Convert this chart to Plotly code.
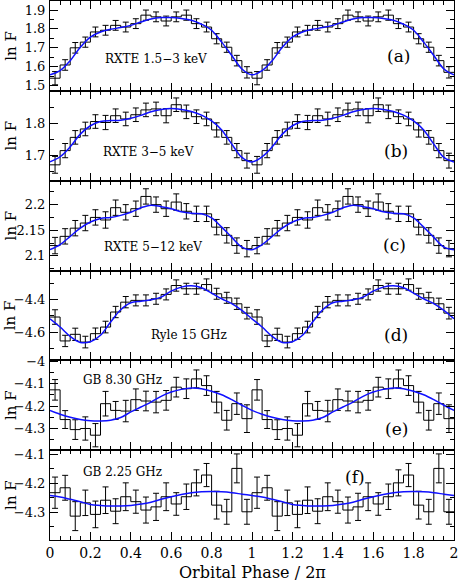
import numpy as np
import plotly.graph_objects as go

# ---------------- data (ln F per phase bin, 40 bins of width 0.05 over phase 0-2) ----------------
bin_width = 0.05
n_bins = 40

rxte_soft_vals = [1.539, 1.609, 1.700, 1.730, 1.784, 1.793, 1.819, 1.810, 1.828, 1.873,
                  1.864, 1.842, 1.864, 1.873, 1.828, 1.810, 1.748, 1.703, 1.632, 1.570,
                  1.539, 1.609, 1.700, 1.730, 1.784, 1.793, 1.819, 1.810, 1.828, 1.873,
                  1.864, 1.842, 1.864, 1.873, 1.828, 1.810, 1.748, 1.703, 1.632, 1.570]
rxte_soft_err = [0.035, 0.028, 0.028, 0.027, 0.026, 0.026, 0.026, 0.026, 0.026, 0.027,
                 0.026, 0.026, 0.026, 0.027, 0.026, 0.026, 0.027, 0.027, 0.028, 0.030,
                 0.035, 0.028, 0.028, 0.027, 0.026, 0.026, 0.026, 0.026, 0.026, 0.027,
                 0.026, 0.026, 0.026, 0.027, 0.026, 0.026, 0.027, 0.027, 0.028, 0.030]
rxte_soft_fit = [1.557, 1.579, 1.632, 1.703, 1.757, 1.784, 1.798, 1.807, 1.819, 1.837,
                 1.853, 1.860, 1.860, 1.855, 1.846, 1.825, 1.793, 1.730, 1.659, 1.588,
                 1.557, 1.579, 1.632, 1.703, 1.757, 1.784, 1.798, 1.807, 1.819, 1.837,
                 1.853, 1.860, 1.860, 1.855, 1.846, 1.825, 1.793, 1.730, 1.659, 1.588, 1.557]

rxte_mid_vals = [1.672, 1.716, 1.757, 1.783, 1.806, 1.803, 1.824, 1.814, 1.827, 1.842,
                 1.845, 1.824, 1.858, 1.836, 1.821, 1.814, 1.780, 1.757, 1.716, 1.685,
                 1.672, 1.716, 1.757, 1.783, 1.806, 1.803, 1.824, 1.814, 1.827, 1.842,
                 1.845, 1.824, 1.858, 1.836, 1.821, 1.814, 1.780, 1.757, 1.716, 1.685]
rxte_mid_err = [0.026, 0.022, 0.021, 0.021, 0.021, 0.022, 0.021, 0.021, 0.021, 0.021,
                0.021, 0.022, 0.021, 0.021, 0.021, 0.021, 0.022, 0.021, 0.022, 0.023,
                0.026, 0.022, 0.021, 0.021, 0.021, 0.022, 0.021, 0.021, 0.021, 0.021,
                0.021, 0.022, 0.021, 0.021, 0.021, 0.021, 0.022, 0.021, 0.022, 0.023]
rxte_mid_fit = [1.681, 1.697, 1.728, 1.767, 1.793, 1.806, 1.809, 1.810, 1.816, 1.825,
                1.836, 1.843, 1.846, 1.843, 1.837, 1.826, 1.808, 1.780, 1.736, 1.695,
                1.681, 1.697, 1.728, 1.767, 1.793, 1.806, 1.809, 1.810, 1.816, 1.825,
                1.836, 1.843, 1.846, 1.843, 1.837, 1.826, 1.808, 1.780, 1.736, 1.695, 1.681]

rxte_hard_vals = [2.120, 2.138, 2.154, 2.164, 2.175, 2.170, 2.194, 2.185, 2.192, 2.216,
                  2.200, 2.192, 2.205, 2.187, 2.182, 2.182, 2.156, 2.140, 2.120, 2.114,
                  2.120, 2.138, 2.154, 2.164, 2.175, 2.170, 2.194, 2.185, 2.192, 2.216,
                  2.200, 2.192, 2.205, 2.187, 2.182, 2.182, 2.156, 2.140, 2.120, 2.114]
rxte_hard_err = [0.016, 0.015, 0.015, 0.015, 0.015, 0.016, 0.015, 0.015, 0.015, 0.015,
                 0.015, 0.015, 0.016, 0.015, 0.015, 0.015, 0.015, 0.015, 0.015, 0.016,
                 0.016, 0.015, 0.015, 0.015, 0.015, 0.016, 0.015, 0.015, 0.015, 0.015,
                 0.015, 0.015, 0.016, 0.015, 0.015, 0.015, 0.015, 0.015, 0.015, 0.016]
rxte_hard_fit = [2.112, 2.122, 2.138, 2.154, 2.166, 2.173, 2.175, 2.179, 2.185, 2.194,
                 2.199, 2.196, 2.192, 2.186, 2.183, 2.182, 2.174, 2.156, 2.136, 2.117,
                 2.112, 2.122, 2.138, 2.154, 2.166, 2.173, 2.175, 2.179, 2.185, 2.194,
                 2.199, 2.196, 2.192, 2.186, 2.183, 2.182, 2.174, 2.156, 2.136, 2.117, 2.112]

ryle_vals = [-4.507, -4.655, -4.614, -4.662, -4.610, -4.569, -4.476, -4.415, -4.404, -4.404,
             -4.394, -4.367, -4.312, -4.332, -4.332, -4.306, -4.363, -4.388, -4.425, -4.483,
             -4.507, -4.655, -4.614, -4.662, -4.610, -4.569, -4.476, -4.415, -4.404, -4.404,
             -4.394, -4.367, -4.312, -4.332, -4.332, -4.306, -4.363, -4.388, -4.425, -4.483]
ryle_err = [0.045, 0.035, 0.038, 0.036, 0.035, 0.036, 0.035, 0.035, 0.034, 0.034,
            0.034, 0.034, 0.035, 0.034, 0.034, 0.035, 0.034, 0.034, 0.035, 0.036,
            0.045, 0.035, 0.038, 0.036, 0.035, 0.036, 0.035, 0.035, 0.034, 0.034,
            0.034, 0.034, 0.035, 0.034, 0.034, 0.035, 0.034, 0.034, 0.035, 0.036]
ryle_fit = [-4.518, -4.569, -4.627, -4.664, -4.660, -4.620, -4.538, -4.462, -4.419, -4.409,
            -4.400, -4.384, -4.347, -4.322, -4.314, -4.326, -4.359, -4.394, -4.424, -4.466,
            -4.518, -4.569, -4.627, -4.664, -4.660, -4.620, -4.538, -4.462, -4.419, -4.409,
            -4.400, -4.384, -4.347, -4.322, -4.314, -4.326, -4.359, -4.394, -4.424, -4.466, -4.518]

gb830_vals = [-4.127, -4.260, -4.305, -4.300, -4.330, -4.189, -4.219, -4.222, -4.171, -4.177,
              -4.182, -4.174, -4.115, -4.122, -4.078, -4.108, -4.182, -4.263, -4.189, -4.256,
              -4.127, -4.260, -4.305, -4.300, -4.330, -4.189, -4.219, -4.222, -4.171, -4.177,
              -4.182, -4.174, -4.115, -4.122, -4.078, -4.108, -4.182, -4.263, -4.189, -4.256]
gb830_err = [0.046, 0.040, 0.044, 0.052, 0.052, 0.055, 0.040, 0.048, 0.048, 0.044,
             0.048, 0.044, 0.044, 0.044, 0.040, 0.044, 0.048, 0.044, 0.048, 0.062,
             0.046, 0.040, 0.044, 0.052, 0.052, 0.055, 0.040, 0.048, 0.048, 0.044,
             0.048, 0.044, 0.044, 0.044, 0.040, 0.044, 0.048, 0.044, 0.048, 0.062]
gb830_fit = [-4.219, -4.236, -4.250, -4.260, -4.265, -4.266, -4.263, -4.251, -4.226, -4.204,
             -4.182, -4.156, -4.137, -4.125, -4.119, -4.122, -4.133, -4.149, -4.171, -4.196,
             -4.219, -4.236, -4.250, -4.260, -4.265, -4.266, -4.263, -4.251, -4.226, -4.204,
             -4.182, -4.156, -4.137, -4.125, -4.119, -4.122, -4.133, -4.149, -4.171, -4.196, -4.219]

gb225_vals = [-4.232, -4.215, -4.313, -4.267, -4.307, -4.258, -4.296, -4.246, -4.263, -4.292,
              -4.281, -4.246, -4.271, -4.246, -4.198, -4.171, -4.275, -4.298, -4.148, -4.298,
              -4.232, -4.215, -4.313, -4.267, -4.307, -4.258, -4.296, -4.246, -4.263, -4.292,
              -4.281, -4.246, -4.271, -4.246, -4.198, -4.171, -4.275, -4.298, -4.148, -4.298]
gb225_err = [0.054, 0.043, 0.050, 0.044, 0.046, 0.046, 0.043, 0.048, 0.040, 0.045,
             0.047, 0.048, 0.039, 0.044, 0.045, 0.040, 0.048, 0.043, 0.050, 0.043,
             0.054, 0.043, 0.050, 0.044, 0.046, 0.046, 0.043, 0.048, 0.040, 0.045,
             0.047, 0.048, 0.039, 0.044, 0.045, 0.040, 0.048, 0.043, 0.050, 0.043]
gb225_fit = [-4.242, -4.247, -4.255, -4.263, -4.273, -4.276, -4.278, -4.278, -4.276, -4.271,
             -4.265, -4.255, -4.246, -4.238, -4.232, -4.229, -4.228, -4.229, -4.232, -4.237,
             -4.242, -4.247, -4.255, -4.263, -4.273, -4.276, -4.278, -4.278, -4.276, -4.271,
             -4.265, -4.255, -4.246, -4.238, -4.232, -4.229, -4.228, -4.229, -4.232, -4.237, -4.242]

band_labels = ["RXTE 1.5\u22123 keV", "RXTE 3\u22125 keV", "RXTE 5\u221212 keV",
               "Ryle 15 GHz", "GB 8.30 GHz", "GB 2.25 GHz"]
panel_tags = ["(a)", "(b)", "(c)", "(d)", "(e)", "(f)"]

y_ranges = [[1.472, 1.948], [1.623, 1.901], [2.0713, 2.2468],
            [-4.775, -4.219], [-4.397, -3.995], [-4.3955, -4.085]]
y_tickvals = [[1.5, 1.6, 1.7, 1.8, 1.9], [1.7, 1.8], [2.1, 2.15, 2.2],
              [-4.6, -4.4], [-4.3, -4.2, -4.1, -4.0], [-4.3, -4.2, -4.1]]
y_ticktext = [["1.5", "1.6", "1.7", "1.8", "1.9"], ["1.7", "1.8"], ["2.1", "2.15", "2.2"],
              ["\u22124.6", "\u22124.4"], ["\u22124.3", "\u22124.2", "\u22124.1", "\u22124"],
              ["\u22124.3", "\u22124.2", "\u22124.1"]]
y_minor_dtick = [0.05, 0.05, 0.025, 0.1, 0.05, 0.05]

x_tickvals = [0, 0.2, 0.4, 0.6, 0.8, 1, 1.2, 1.4, 1.6, 1.8, 2]
x_ticktext = ["0", "0.2", "0.4", "0.6", "0.8", "1", "1.2", "1.4", "1.6", "1.8", "2"]

# label placement (x in phase, y as fraction of panel height)
label_pos = [(0.524, 0.35), (0.489, 0.32), (0.508, 0.26), (0.687, 0.28), (0.357, 0.78), (0.357, 0.76)]
tag_pos = [(1.724, 0.39), (1.713, 0.33), (1.707, 0.28), (1.713, 0.28), (1.713, 0.24), (1.511, 0.70)]

series = [(rxte_soft_vals, rxte_soft_err, rxte_soft_fit),
          (rxte_mid_vals, rxte_mid_err, rxte_mid_fit),
          (rxte_hard_vals, rxte_hard_err, rxte_hard_fit),
          (ryle_vals, ryle_err, ryle_fit),
          (gb830_vals, gb830_err, gb830_fit),
          (gb225_vals, gb225_err, gb225_fit)]

# ---------------- figure ----------------
edges = np.round(np.arange(n_bins + 1) * bin_width, 4)
centers = edges[:-1] + bin_width / 2
fit_x = edges  # model sampled at bin edges

FONT = "DejaVu Serif"
fig = go.Figure()
layout = dict(template="none", width=458, height=583, margin=dict(l=50, r=4, t=1, b=43, pad=0),
              autosize=False,
              paper_bgcolor="white", plot_bgcolor="white", showlegend=False,
              font=dict(family=FONT, size=14, color="black"))
annotations = []
n = len(series)
for i, (vals, errs, fit) in enumerate(series):
    xa = "x" if i == 0 else f"x{i+1}"
    ya = "y" if i == 0 else f"y{i+1}"
    step_y = list(vals) + [vals[-1]]
    fig.add_trace(go.Scatter(x=edges, y=step_y, mode="lines", line=dict(color="black", width=1, shape="hv"),
                             xaxis=xa, yaxis=ya, hoverinfo="skip"))
    fig.add_trace(go.Scatter(x=centers, y=vals, mode="markers", marker=dict(size=1, color="rgba(0,0,0,0)"),
                             error_y=dict(type="data", array=errs, visible=True, color="black", thickness=1, width=3),
                             xaxis=xa, yaxis=ya, hoverinfo="skip"))
    fig.add_trace(go.Scatter(x=fit_x, y=fit, mode="lines", line=dict(color="#1010ff", width=1.5, shape="spline", smoothing=1.0),
                             xaxis=xa, yaxis=ya, hoverinfo="skip"))

    dom = [1 - (i + 1) / n, 1 - i / n]
    xkey = "xaxis" if i == 0 else f"xaxis{i+1}"
    ykey = "yaxis" if i == 0 else f"yaxis{i+1}"
    layout[xkey] = dict(domain=[0, 1], anchor=ya, range=[0, 2], showgrid=False, zeroline=False,
                        automargin=False, ticklabeloverflow="allow",
                        showline=True, linecolor="black", linewidth=1, mirror="allticks",
                        ticks="inside", ticklen=8, tickwidth=1, tickcolor="black",
                        tickmode="array", tickvals=x_tickvals, ticktext=x_ticktext,
                        showticklabels=(i == n - 1), tickfont=dict(family=FONT, size=14),
                        minor=dict(dtick=0.05, tick0=0, ticks="inside", ticklen=4, tickcolor="black", tickwidth=1),
                        **({} if i == 0 else {"matches": "x"}))
    layout[ykey] = dict(domain=dom, anchor=xa, range=y_ranges[i], showgrid=False, zeroline=False,
                        automargin=False, ticklabeloverflow="allow", ticklabelstandoff=1,
                        showline=True, linecolor="black", linewidth=1, mirror="allticks",
                        ticks="inside", ticklen=8, tickwidth=1, tickcolor="black",
                        tickmode="array", tickvals=y_tickvals[i], ticktext=y_ticktext[i],
                        tickfont=dict(family=FONT, size=13),
                        minor=dict(dtick=y_minor_dtick[i], tick0=0, ticks="inside", ticklen=4, tickcolor="black", tickwidth=1))
    yd = ya + " domain"
    annotations.append(dict(text=band_labels[i], x=label_pos[i][0], y=label_pos[i][1], xref=xa, yref=yd,
                            showarrow=False, xanchor="center", yanchor="middle", font=dict(family=FONT, size=12)))
    annotations.append(dict(text=panel_tags[i], x=tag_pos[i][0], y=tag_pos[i][1], xref=xa, yref=yd,
                            showarrow=False, xanchor="center", yanchor="middle", font=dict(family=FONT, size=17)))
    annotations.append(dict(text="ln F", x=-0.097, y=0.5, xref="paper", yref=yd, textangle=-90,
                            showarrow=False, xanchor="center", yanchor="middle", font=dict(family=FONT, size=15)))

annotations.append(dict(text="Orbital Phase / 2\u03c0", x=0.5, y=-0.061, xref="paper", yref="paper",
                        showarrow=False, xanchor="center", yanchor="middle", font=dict(family=FONT, size=16)))
layout["annotations"] = annotations
fig.update_layout(**layout)
fig.write_html("out.html", config={"displayModeBar": False},
               post_script="document.body.style.margin='0px';")
